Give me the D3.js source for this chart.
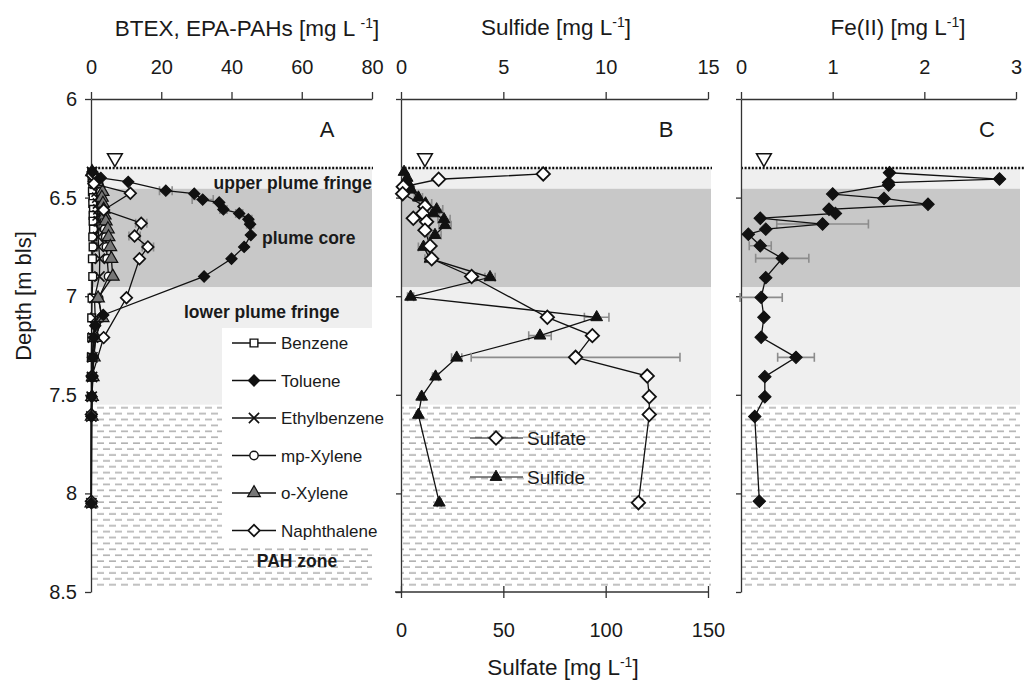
<!DOCTYPE html>
<html>
<head>
<meta charset="utf-8">
<script src="https://cdn.jsdelivr.net/npm/d3@7"></script>
<style>
  body { margin: 0; background: #fff; }
  text { font-family: "Liberation Sans", Arial, sans-serif; fill: #1a1a1a; }
</style>
</head>
<body>
<svg id="chart" width="1025" height="681"></svg>
<script>
// ---- data ----
// zone boundaries (depth, m bls): water table, upper fringe, core, lower fringe, PAH zone bottom
const zoneDepths = [6.35, 6.455, 6.955, 7.55, 8.5];
const waterTable = [6.8, 1.17, 0.25]; // x position of the water table symbol in each panel

// panel A: BTEX / PAHs [mg/L]
const btexDepth = [6.37, 6.40, 6.43, 6.47, 6.50, 6.53, 6.56, 6.59, 6.62, 6.66, 6.70, 6.75, 6.81, 6.90, 7.01, 7.11, 7.21, 7.31, 7.41, 7.51, 7.61, 8.05];
const benzene = [0.2, 0.3, 0.5, 0.4, 0.6, 0.5, 0.7, 0.6, 0.6, 0.7, 0.5, 0.6, 0.4, 0.5, 0.3, 0.2, 0.2, 0.1, 0.1, 0.1, 0.1, 0.1];
const ethylbenzene = [0.3, 0.9, 1.3, 1.6, 1.8, 2.0, 2.1, 1.9, 2.2, 2.3, 2.0, 2.2, 2.5, 2.4, 1.0, 1.2, 0.6, 0.4, 0.3, 0.2, 0.1, 0.1];
const mpXylene = [0.4, 1.2, 2.2, 2.8, 3.0, 3.2, 3.3, 3.6, 3.8, 3.9, 4.2, 4.4, 4.6, 5.0, 2.2, 3.0, 1.4, 0.8, 0.5, 0.3, 0.2, 0.1];
const oXylene = [0.3, 1.0, 2.1, 3.3, 3.1, 3.4, 3.6, 3.9, 4.2, 4.8, 5.0, 5.5, 5.8, 6.2, 2.0, 3.3, 1.2, 0.8, 0.5, 0.3, 0.2, 0.1];

const tolDepth = [6.37, 6.40, 6.42, 6.465, 6.48, 6.51, 6.525, 6.56, 6.58, 6.61, 6.635, 6.69, 6.75, 6.81, 6.90, 7.095, 7.15, 7.21, 7.31, 7.41, 7.51, 7.61, 8.05];
const toluene = [0.4, 2.8, 10.6, 21.3, 29.4, 31.8, 36.5, 37.7, 42.2, 44.8, 45.3, 45.5, 43.6, 40.0, 32.2, 3.5, 1.2, 0.8, 0.5, 0.3, 0.2, 0.1, 0.1];
const tolErr = [0, 0, 0, 1.8, 0, 3, 0, 1, 1, 1, 1, 0, 0, 0, 0, 0, 0, 0, 0, 0, 0, 0, 0];

const napDepth = [6.385, 6.43, 6.478, 6.563, 6.63, 6.695, 6.75, 6.81, 7.008, 7.21, 7.405, 7.60, 8.04];
const naphthalene = [0.3, 0.8, 11.2, 3.6, 14.3, 12.4, 16.2, 13.8, 10.1, 3.6, 0.3, 0.1, 0.1];
const napErr = [0, 0, 0, 0, 1.6, 1.6, 1.6, 0, 0, 0, 0, 0, 0];

// panel B: sulfate (bottom axis) and sulfide (top axis) [mg/L]
const sulfateDepth = [6.38, 6.407, 6.445, 6.48, 6.545, 6.58, 6.605, 6.622, 6.665, 6.745, 6.81, 6.90, 7.107, 7.20, 7.31, 7.405, 7.51, 7.60, 8.047];
const sulfate = [69.5, 18.4, 1.1, 0.8, 11.7, 10.6, 6.0, 12.5, 11.7, 14.2, 15.0, 34.5, 71.5, 93.5, 85.3, 120.3, 121.3, 121.3, 116];
const sulfateErr = [0, 0, 0, 0, 0, 0, 0, 0, 0, 0, 0, 0, 0, 0, 51, 0, 0, 0, 2];

const sulfideDepth = [6.37, 6.40, 6.43, 6.46, 6.50, 6.53, 6.56, 6.58, 6.61, 6.64, 6.69, 6.75, 6.81, 6.904, 7.003, 7.107, 7.20, 7.312, 7.408, 7.51, 7.602, 8.047];
const sulfide = [0.15, 0.3, 0.36, 0.5, 0.85, 1.2, 1.74, 1.58, 2.1, 2.15, 1.66, 1.1, 1.42, 4.35, 0.47, 9.56, 6.79, 2.72, 1.69, 1.01, 0.85, 1.87];
const sulfideErr = [0.1, 0.1, 0.1, 0.15, 0.2, 0.3, 0.3, 0.3, 0.3, 0.3, 0.3, 0.25, 0.25, 0.25, 0.15, 0.6, 0.55, 0.25, 0.15, 0.1, 0.1, 0.1];

// panel C: Fe(II) [mg/L]
const feDepth = [6.374, 6.406, 6.424, 6.436, 6.482, 6.504, 6.534, 6.559, 6.58, 6.605, 6.634, 6.66, 6.686, 6.744, 6.808, 6.906, 7.006, 7.107, 7.208, 7.31, 7.408, 7.51, 7.61, 8.04];
const fe = [1.62, 2.82, 1.61, 1.61, 1.0, 1.56, 2.04, 0.96, 1.03, 0.21, 0.89, 0.27, 0.08, 0.21, 0.45, 0.27, 0.22, 0.25, 0.22, 0.60, 0.26, 0.26, 0.15, 0.2];
const feErr = [0, 0, 0, 0, 0, 0, 0, 0, 0, 0, 0.5, 0, 0, 0.12, 0.29, 0, 0.23, 0, 0, 0.2, 0, 0, 0, 0];

// tick values
const depthTicks = [6, 6.5, 7, 7.5, 8, 8.5];
const btexTicks = [0, 20, 40, 60, 80];
const sulfideTicks = [0, 5, 10, 15];
const sulfateTicks = [0, 50, 100, 150];
const feTicks = [0, 1, 2, 3];

// ---- layout ----
const svg = d3.select("#chart");
const font = "'Liberation Sans', Arial, sans-serif";
const ink = "#1a1a1a";

const y = d3.scaleLinear().domain([6, 8.5]).range([99, 592]);
const xA = d3.scaleLinear().domain([0, 80]).range([91, 372]);
const xB = d3.scaleLinear().domain([0, 15]).range([401, 708]);
const xS = d3.scaleLinear().domain([0, 150]).range([401, 708]);
const xC = d3.scaleLinear().domain([0, 3]).range([741, 1016]);

// shading extents per panel
const panels = [
  { x: xA, left: 91, right: 372, dot: 373 },
  { x: xB, left: 401, right: 711, dot: 712 },
  { x: xC, left: 741, right: 1020, dot: 1025 }
];

// dashed fill for the PAH zone (two staggered rows per tile)
const defs = svg.append("defs");
const pat = defs.append("pattern")
  .attr("id", "dash")
  .attr("patternUnits", "userSpaceOnUse")
  .attr("x", 0).attr("y", y(zoneDepths[3]))
  .attr("width", 12).attr("height", 11.8);
pat.append("path")
  .attr("d", "M1,3H8M7,8.9H14M-5,8.9H2")
  .attr("stroke", "#9a9a9a").attr("stroke-width", 1.2).attr("fill", "none");

const bands = svg.append("g");
panels.forEach((p) => {
  const w = p.right - p.left;
  bands.append("rect").attr("x", p.left).attr("width", w)
    .attr("y", y(zoneDepths[0])).attr("height", y(zoneDepths[1]) - y(zoneDepths[0]))
    .attr("fill", "#efefef");
  bands.append("rect").attr("x", p.left).attr("width", w)
    .attr("y", y(zoneDepths[1])).attr("height", y(zoneDepths[2]) - y(zoneDepths[1]))
    .attr("fill", "#c8c8c8");
  bands.append("rect").attr("x", p.left).attr("width", w)
    .attr("y", y(zoneDepths[2])).attr("height", y(zoneDepths[3]) - y(zoneDepths[2]))
    .attr("fill", "#efefef");
  bands.append("rect").attr("x", p.left).attr("width", w)
    .attr("y", y(zoneDepths[3])).attr("height", y(zoneDepths[4]) - y(zoneDepths[3]) - 3)
    .attr("fill", "url(#dash)");
  // water table dotted line
  bands.append("line")
    .attr("x1", p.left).attr("x2", p.dot)
    .attr("y1", y(zoneDepths[0])).attr("y2", y(zoneDepths[0]))
    .attr("stroke", "#111").attr("stroke-width", 2.4)
    .attr("stroke-dasharray", "2,1.6");
});

// legend box of panel A sits on top of the shading
bands.append("rect").attr("x", 222).attr("y", 328).attr("width", 153).attr("height", 219).attr("fill", "#fff");

// zone labels (panel A)
const zoneLabels = [
  { t: "upper plume fringe", x: 372, y: 189, a: "end" },
  { t: "plume core", x: 262, y: 244, a: "start" },
  { t: "lower plume fringe", x: 184, y: 318, a: "start" },
  { t: "PAH zone", x: 297, y: 567, a: "middle" }
];
svg.append("g").selectAll("text").data(zoneLabels).join("text")
  .attr("x", (d) => d.x).attr("y", (d) => d.y)
  .attr("text-anchor", (d) => d.a)
  .attr("font-size", 17.5).attr("font-weight", "bold")
  .text((d) => d.t);

// ---- axes ----
function styleAxis(g, size) {
  g.selectAll("text").attr("font-family", font).attr("font-size", size).attr("fill", ink);
  g.selectAll("line,path").attr("stroke", "#333").attr("stroke-width", 1.3);
}

// top axes
[[xA, btexTicks], [xB, sulfideTicks], [xC, feTicks]].forEach(([sc, tv]) => {
  svg.append("g")
    .attr("transform", "translate(0," + y(6) + ")")
    .call(d3.axisTop(sc).tickValues(tv).tickSize(7).tickSizeOuter(0).tickPadding(18).tickFormat(d3.format("")))
    .call((g) => styleAxis(g, 20));
});

// left axes
svg.append("g")
  .attr("transform", "translate(" + xA(0) + ",0)")
  .call(d3.axisLeft(y).tickValues(depthTicks).tickSize(6).tickSizeOuter(0).tickPadding(8).tickFormat(d3.format("")))
  .call((g) => styleAxis(g, 20));
[xB, xC].forEach((sc) => {
  svg.append("g")
    .attr("transform", "translate(" + sc(0) + ",0)")
    .call(d3.axisLeft(y).tickValues(depthTicks).tickSize(5).tickSizeOuter(0).tickFormat(""))
    .call((g) => styleAxis(g, 20));
});

// bottom sulfate axis of panel B
svg.append("g")
  .attr("transform", "translate(0," + y(8.5) + ")")
  .call(d3.axisBottom(xS).tickValues(sulfateTicks).tickSize(6).tickSizeOuter(0).tickPadding(25))
  .call((g) => {
    g.select(".domain").attr("d", "M" + (xS(0) - 6) + ",0H" + xS(150));
    g.selectAll(".tick line").attr("y1", -6);
    styleAxis(g, 20);
  });

// ---- titles ----
function unitTitle(x, yy, label, gap) {
  const t = svg.append("text").attr("x", x).attr("y", yy).attr("text-anchor", "middle").attr("font-size", 22.5);
  t.append("tspan").text(label + " [mg L" + (gap ? " " : ""));
  t.append("tspan").attr("dy", -8).attr("font-size", 14).text("-1");
  t.append("tspan").attr("dy", 8).text("]");
  return t;
}
unitTitle(247, 36, "BTEX, EPA-PAHs", true);
unitTitle(556, 35, "Sulfide", false);
unitTitle(898, 35, "Fe(II)", false);
unitTitle(563, 675, "Sulfate", false);

svg.append("text")
  .attr("transform", "translate(31,296) rotate(-90)")
  .attr("text-anchor", "middle").attr("font-size", 22)
  .text("Depth [m bls]");

svg.append("g").selectAll("text")
  .data([{ t: "A", x: 327 }, { t: "B", x: 666 }, { t: "C", x: 987 }])
  .join("text")
  .attr("x", (d) => d.x).attr("y", 137)
  .attr("text-anchor", "middle").attr("font-size", 22)
  .text((d) => d.t);

// water-table symbols
panels.forEach((p, i) => {
  svg.append("path")
    .attr("transform", "translate(" + p.x(waterTable[i]) + ",158) rotate(180)")
    .attr("d", d3.symbol(d3.symbolTriangle, 95)())
    .attr("fill", "#fff").attr("stroke", "#111").attr("stroke-width", 1.5);
});

// ---- series ----
const M = {
  benzene: { type: d3.symbolSquare, size: 60, fill: "#fff", rot: 0, sw: 1.4 },
  toluene: { type: d3.symbolSquare, size: 62, fill: "#111", rot: 45, sw: 1.2 },
  ethyl: { type: d3.symbolX, size: 70, fill: "none", rot: 0, sw: 1.6 },
  mpx: { type: d3.symbolCircle, size: 55, fill: "#fff", rot: 0, sw: 1.4 },
  ox: { type: d3.symbolTriangle, size: 70, fill: "#777", rot: 0, sw: 1.2 },
  naph: { type: d3.symbolSquare, size: 66, fill: "#fff", rot: 45, sw: 1.7 },
  sulfate: { type: d3.symbolSquare, size: 90, fill: "#fff", rot: 45, sw: 1.8 },
  sulfide: { type: d3.symbolTriangle, size: 60, fill: "#111", rot: 0, sw: 1 },
  fe: { type: d3.symbolSquare, size: 78, fill: "#111", rot: 45, sw: 1 }
};

function marker(g, m, px, py) {
  return g.append("path")
    .attr("transform", "translate(" + px + "," + py + ") rotate(" + m.rot + ")")
    .attr("d", d3.symbol(m.type, m.size)())
    .attr("fill", m.fill).attr("stroke", "#111").attr("stroke-width", m.sw);
}

function drawSeries(xs, depths, vals, errs, m) {
  const g = svg.append("g");
  const pts = depths.map((d, i) => ({ d: d, v: vals[i], e: errs ? errs[i] : 0 }));

  // horizontal error bars
  g.selectAll(null).data(pts.filter((p) => p.e > 0)).join("path")
    .attr("d", (p) => {
      const x0 = Math.max(xs(p.v - p.e), xs(0) - 1), x1 = xs(p.v + p.e), yy = y(p.d);
      return "M" + x0 + "," + yy + "H" + x1 + "M" + x0 + "," + (yy - 4.5) + "V" + (yy + 4.5) + "M" + x1 + "," + (yy - 4.5) + "V" + (yy + 4.5);
    })
    .attr("fill", "none").attr("stroke", "#8c8c8c").attr("stroke-width", 1.6);

  g.append("path").datum(pts)
    .attr("fill", "none").attr("stroke", "#111").attr("stroke-width", 1.3)
    .attr("d", d3.line().x((p) => xs(p.v)).y((p) => y(p.d)));

  pts.forEach((p) => marker(g, m, xs(p.v), y(p.d)));
}

drawSeries(xA, btexDepth, benzene, null, M.benzene);
drawSeries(xA, btexDepth, ethylbenzene, null, M.ethyl);
drawSeries(xA, btexDepth, mpXylene, null, M.mpx);
drawSeries(xA, btexDepth, oXylene, null, M.ox);
drawSeries(xA, napDepth, naphthalene, napErr, M.naph);
drawSeries(xA, tolDepth, toluene, tolErr, M.toluene);

drawSeries(xB, sulfideDepth, sulfide, sulfideErr, M.sulfide);
drawSeries(xS, sulfateDepth, sulfate, sulfateErr, M.sulfate);

drawSeries(xC, feDepth, fe, feErr, M.fe);

// ---- legends ----
const legendA = [
  { t: "Benzene", m: M.benzene },
  { t: "Toluene", m: M.toluene },
  { t: "Ethylbenzene", m: M.ethyl },
  { t: "mp-Xylene", m: M.mpx },
  { t: "o-Xylene", m: M.ox },
  { t: "Naphthalene", m: M.naph }
];
const lg = svg.append("g");
legendA.forEach((d, i) => {
  const ly = 343 + i * 37.5;
  lg.append("line").attr("x1", 232).attr("x2", 276).attr("y1", ly).attr("y2", ly)
    .attr("stroke", "#111").attr("stroke-width", 1.3);
  marker(lg, d.m, 254, ly);
  lg.append("text").attr("x", 281).attr("y", ly + 6).attr("font-size", 17).text(d.t);
});

const legendB = [
  { t: "Sulfate", m: M.sulfate },
  { t: "Sulfide", m: M.sulfide }
];
legendB.forEach((d, i) => {
  const ly = 438 + i * 39;
  lg.append("line").attr("x1", 470).attr("x2", 523).attr("y1", ly).attr("y2", ly)
    .attr("stroke", "#111").attr("stroke-width", 1.2);
  marker(lg, d.m, 496, ly);
  lg.append("text").attr("x", 527).attr("y", ly + 7).attr("font-size", 19).text(d.t);
});
</script>
</body>
</html>
